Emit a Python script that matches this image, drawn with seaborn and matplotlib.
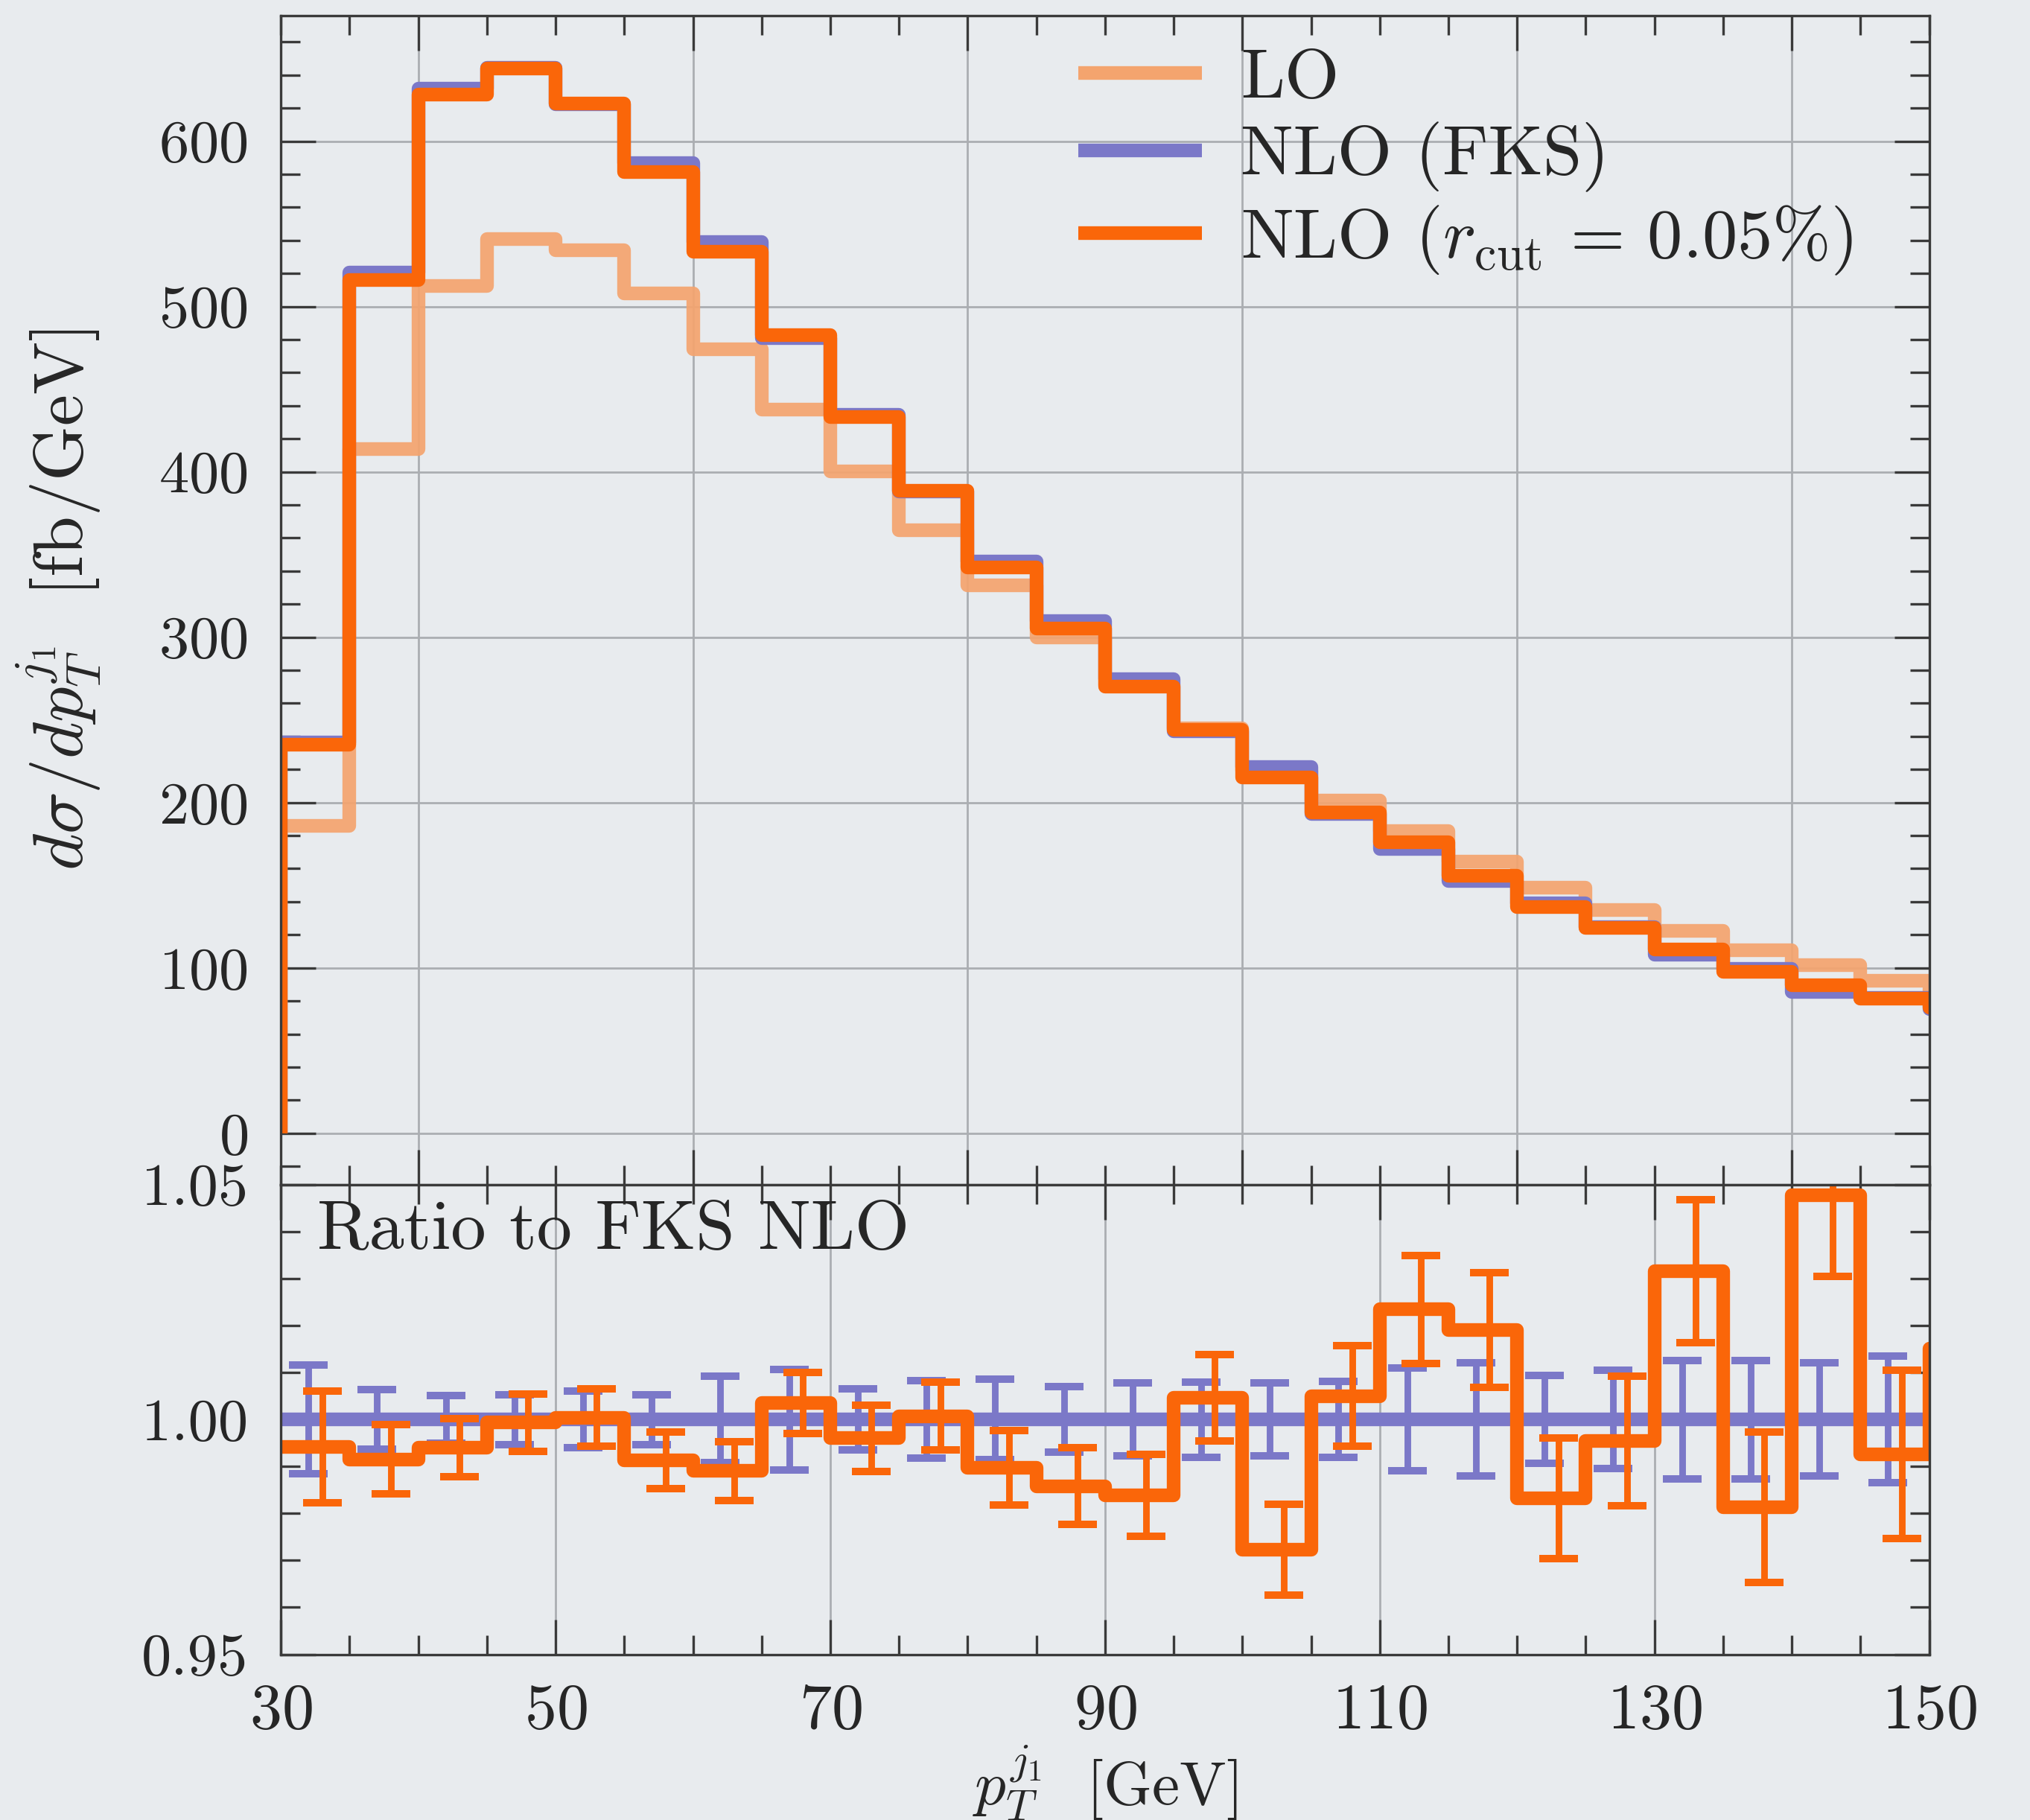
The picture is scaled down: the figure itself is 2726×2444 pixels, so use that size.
import matplotlib
matplotlib.use("Agg")
import matplotlib.pyplot as plt
import seaborn as sns
import numpy as np
from matplotlib.ticker import MultipleLocator, FormatStrFormatter

# ---- data: jet pT spectrum, 5 GeV bins (last bin lies beyond the plotted range) ----
bin_edges = [30, 35, 40, 45, 50, 55, 60, 65, 70, 75, 80, 85, 90,
             95, 100, 105, 110, 115, 120, 125, 130, 135, 140, 145, 150, 155]

lo = [186, 414, 512.5, 541, 534, 508, 474, 437.5, 400.3, 364.7, 331.5, 299.7,
      271, 245, 219, 201, 182.7, 164.2, 148.4, 134.9, 122.6, 110.8, 101.5, 92, 86]

nlo_fks = [236.4, 520.4, 631.8, 644.5, 622.5, 586.6, 539.0, 481.0, 434.7, 388.2,
           345.6, 309.7, 274.4, 242.9, 221.4, 193.0, 172.0, 152.6, 139.0, 124.6,
           107.9, 99.6, 85.4, 81.8, 75]

# ratio of the r_cut NLO result to the FKS NLO result
ratio_rcut = [0.9941, 0.9915, 0.9940, 0.9993, 1.0004, 0.9913, 0.9890, 1.0035,
              0.9960, 1.0007, 0.9897, 0.9858, 0.9839, 1.0046, 0.9723, 1.0050,
              1.0234, 1.0191, 0.9832, 0.9954, 1.0316, 0.9813, 1.0477, 0.9926, 1.015]

# relative MC uncertainties of the two NLO predictions
err_fks = [0.0116, 0.0064, 0.0051, 0.0053, 0.0060, 0.0053, 0.0092, 0.0107,
           0.0065, 0.0083, 0.0086, 0.0070, 0.0078, 0.0080, 0.0078, 0.0081,
           0.0109, 0.0120, 0.0094, 0.0105, 0.0126, 0.0126, 0.0120, 0.0135]
err_rcut = [0.0119, 0.0074, 0.0062, 0.0061, 0.0061, 0.0060, 0.0063, 0.0065,
            0.0071, 0.0072, 0.0079, 0.0082, 0.0087, 0.0092, 0.0097, 0.0107,
            0.0115, 0.0122, 0.0128, 0.0138, 0.0152, 0.0160, 0.0172, 0.0179]

legend_labels = ["LO", "NLO (FKS)", r"NLO $(r_{\rm cut}\,=\,0.05\%)$"]

# ---- style ----
c_lo = "#F4A46E"
c_fks = "#7B78C8"
c_rcut = "#FA6609"
bg = "#E8EBEE"
grid_c = "#ABAEB2"
spine_c = "#3A3A3A"

sns.set_theme(style="ticks")
plt.rcParams.update({
    "font.family": ["cmr10", "DejaVu Serif"],
    "mathtext.fontset": "cm",
    "axes.formatter.use_mathtext": True,
    "axes.unicode_minus": False,
    "figure.facecolor": bg,
    "axes.facecolor": bg,
    "axes.edgecolor": spine_c,
    "axes.linewidth": 1.2,
})

edges = np.array(bin_edges, dtype=float)
fks = np.array(nlo_fks)
rat = np.array(ratio_rcut)
rcut = fks * rat
ratio_fks = fks / fks
centers = 0.5 * (edges[:-1] + edges[1:])
n_err = len(err_fks)

def hist_outline(values, from_zero=True):
    v = list(values)
    if from_zero:
        x = [edges[0]] + list(edges[:-1]) + [edges[-1]]
        y = [0.0] + v + [v[-1]]
    else:
        x = list(edges[:-1]) + [edges[-1]]
        y = v + [v[-1]]
    return np.array(x), np.array(y)

fig = plt.figure(figsize=(13.63, 12.22), dpi=200)
ax1 = fig.add_axes([0.1384, 0.3492, 0.8119, 0.6423])
ax2 = fig.add_axes([0.1384, 0.0910, 0.8119, 0.2582])

lw = 6.6
line_kw = dict(estimator=None, sort=False, drawstyle="steps-post",
               legend=False, solid_joinstyle="round", solid_capstyle="butt")

# ---- upper panel: distributions ----
x, y = hist_outline(lo)
sns.lineplot(x=x, y=y, ax=ax1, color=c_lo, lw=lw, alpha=0.92, zorder=2, **line_kw)
h_lo = ax1.lines[-1]
x, y = hist_outline(fks)
sns.lineplot(x=x, y=y, ax=ax1, color=c_fks, lw=lw, zorder=3, **line_kw)
h_fks = ax1.lines[-1]
x, y = hist_outline(rcut)
sns.lineplot(x=x, y=y, ax=ax1, color=c_rcut, lw=lw, zorder=4, **line_kw)
h_rcut = ax1.lines[-1]

ax1.set_xlim(30, 150)
ax1.set_ylim(-31, 676)
ax1.set_xticks(np.arange(40, 150, 20))
ax1.xaxis.set_minor_locator(MultipleLocator(5))
ax1.set_yticks(np.arange(0, 700, 100))
ax1.yaxis.set_minor_locator(MultipleLocator(20))
ax1.tick_params(axis="x", which="both", labelbottom=False)
ax1.grid(True, which="major", color=grid_c, lw=1.0, zorder=0)

ax1.set_ylabel(r"$d\sigma/dp_T^{j_1}\ \ [\mathrm{fb/GeV}]$", fontsize=34)
ax1.yaxis.set_label_coords(-0.108, 0.5)

leg = ax1.legend([h_lo, h_fks, h_rcut], legend_labels, loc="upper left",
                 bbox_to_anchor=(0.484, 0.972), frameon=False, fontsize=34,
                 handlelength=1.75, handletextpad=0.55, labelspacing=0.16,
                 borderpad=0, borderaxespad=0)
for h in leg.legend_handles:
    h.set_linewidth(lw)
    h.set_alpha(1)

# ---- lower panel: ratio to FKS ----
x, y = hist_outline(ratio_fks, from_zero=False)
sns.lineplot(x=x, y=y, ax=ax2, color=c_fks, lw=lw, zorder=3, **line_kw)
ax2.errorbar(centers[:n_err] - 0.5, ratio_fks[:n_err], yerr=err_fks, fmt="none",
             ecolor=c_fks, elinewidth=3.2, capsize=9.5, capthick=3.6, zorder=3)
x, y = hist_outline(rat, from_zero=False)
sns.lineplot(x=x, y=y, ax=ax2, color=c_rcut, lw=lw, zorder=4, **line_kw)
ax2.errorbar(centers[:n_err] + 0.5, rat[:n_err], yerr=err_rcut, fmt="none",
             ecolor=c_rcut, elinewidth=3.2, capsize=9.5, capthick=3.6, zorder=5)

ax2.set_xlim(30, 150)
ax2.set_ylim(0.95, 1.05)
ax2.set_xticks(np.arange(30, 151, 20))
ax2.xaxis.set_minor_locator(MultipleLocator(5))
ax2.set_yticks([0.95, 1.00, 1.05])
ax2.yaxis.set_minor_locator(MultipleLocator(0.01))
ax2.yaxis.set_major_formatter(FormatStrFormatter("%.2f"))
ax2.grid(True, which="major", axis="x", color=grid_c, lw=1.0, zorder=0)
ax2.axhline(1.0, color=grid_c, lw=1.0, zorder=0)

ax2.text(0.022, 0.9, "Ratio to FKS NLO", transform=ax2.transAxes,
         fontsize=34, ha="left", va="center", zorder=6)

ax2.set_xlabel(r"$p_T^{j_1}\ \ [\mathrm{GeV}]$", fontsize=30)
ax2.xaxis.set_label_coords(0.5, -0.19)

for ax in (ax1, ax2):
    ax.tick_params(which="both", direction="in", top=True, right=True,
                   color=spine_c, width=1.2)
    ax.tick_params(which="major", length=17)
    ax.tick_params(which="minor", length=9.5)
    ax.tick_params(axis="y", labelsize=29, pad=16)
    ax.tick_params(axis="x", labelsize=31, pad=14)
    for s in ax.spines.values():
        s.set_zorder(10)

fig.savefig("out.png", dpi=200, facecolor=bg)
